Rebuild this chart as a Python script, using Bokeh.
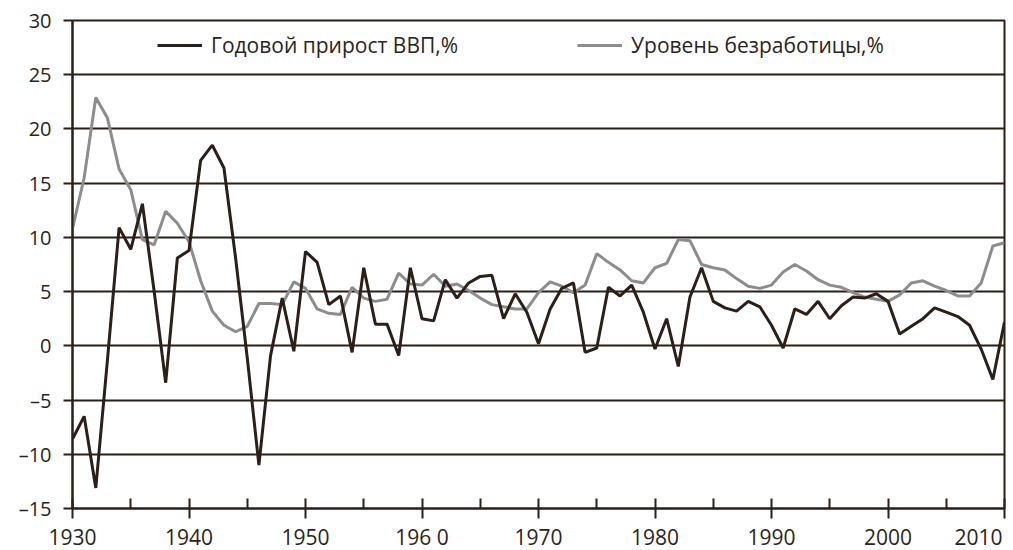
from bokeh.plotting import figure
from bokeh.models import FixedTicker, Range1d, Legend, LegendItem
from bokeh.embed import file_html
from bokeh.resources import INLINE

years = list(range(1930, 2011))

gdp_growth = [
    -8.6, -6.5, -13.1, -1.3, 10.9, 8.9, 13.1, 5.1, -3.4, 8.1,     # 1930-1939
    8.8, 17.1, 18.5, 16.4, 8.1, -1.1, -11.0, -0.9, 4.4, -0.5,      # 1940-1949
    8.7, 7.7, 3.8, 4.6, -0.6, 7.2, 2.0, 2.0, -0.9, 7.2,            # 1950-1959
    2.5, 2.3, 6.1, 4.4, 5.8, 6.4, 6.5, 2.5, 4.8, 3.1,              # 1960-1969
    0.2, 3.4, 5.3, 5.8, -0.6, -0.2, 5.4, 4.6, 5.6, 3.1,            # 1970-1979
    -0.3, 2.5, -1.9, 4.5, 7.2, 4.1, 3.5, 3.2, 4.1, 3.6,            # 1980-1989
    1.9, -0.2, 3.4, 2.9, 4.1, 2.5, 3.7, 4.5, 4.4, 4.8,             # 1990-1999
    4.1, 1.1, 1.8, 2.5, 3.5, 3.1, 2.7, 1.9, -0.3, -3.1,            # 2000-2009
    2.2,                                                           # 2010
]

unemployment = [
    10.8, 15.5, 22.9, 21.0, 16.3, 14.4, 9.8, 9.3, 12.4, 11.3,      # 1930-1939
    9.6, 6.0, 3.2, 1.9, 1.3, 1.8, 3.9, 3.9, 3.8, 5.9,              # 1940-1949
    5.3, 3.4, 3.0, 2.9, 5.4, 4.4, 4.1, 4.3, 6.7, 5.7,              # 1950-1959
    5.6, 6.6, 5.5, 5.7, 5.1, 4.4, 3.8, 3.6, 3.4, 3.4,              # 1960-1969
    4.9, 5.9, 5.5, 4.9, 5.6, 8.5, 7.7, 7.0, 6.0, 5.8,              # 1970-1979
    7.2, 7.6, 9.8, 9.7, 7.5, 7.2, 7.0, 6.2, 5.5, 5.3,              # 1980-1989
    5.6, 6.8, 7.5, 6.9, 6.1, 5.6, 5.4, 4.9, 4.5, 4.3,              # 1990-1999
    4.1, 4.7, 5.8, 6.0, 5.5, 5.1, 4.6, 4.6, 5.8, 9.2,              # 2000-2009
    9.5,                                                           # 2010
]

x_ticks = [1930, 1940, 1950, 1960, 1970, 1980, 1990, 2000, 2010]
x_minor = [1935, 1945, 1955, 1965, 1975, 1985, 1995, 2005]
x_labels = {1960: "196 0", 2010: "2010" + "\u00a0" * 2}
y_ticks = [-15, -10, -5, 0, 5, 10, 15, 20, 25, 30]
y_labels = {-15: "\u201315", -10: "\u201310", -5: "\u20135"}

series_names = ["Годовой прирост ВВП,%", "Уровень безработицы,%"]

DARK = "#2b1f17"
GREY = "#8d8d8d"
TEXT = "#2a2421"
FONT = "Open Sans"

p = figure(
    frame_width=932, frame_height=488,
    min_border_left=72, min_border_top=20, min_border_right=9, min_border_bottom=42,
    x_range=Range1d(1930, 2010), y_range=Range1d(-15, 30),
    output_backend="svg", toolbar_location=None,
    background_fill_color="white", border_fill_color="white",
)

r_unemp = p.line(years, unemployment, line_color=GREY, line_width=3)
r_gdp = p.line(years, gdp_growth, line_color=DARK, line_width=3)

# x axis
xa = p.xaxis[0]
xa.ticker = FixedTicker(ticks=x_ticks, minor_ticks=x_minor)
xa.major_label_overrides = x_labels
xa.axis_line_color = DARK
xa.axis_line_width = 2
xa.major_tick_line_color = DARK
xa.major_tick_line_width = 2
xa.major_tick_in = 10
xa.major_tick_out = 10
xa.minor_tick_line_color = DARK
xa.minor_tick_line_width = 2
xa.minor_tick_in = 10
xa.minor_tick_out = 0
xa.major_label_text_font = FONT
xa.major_label_text_font_size = "21px"
xa.major_label_text_color = TEXT
xa.major_label_standoff = 4

# y axis
ya = p.yaxis[0]
ya.ticker = FixedTicker(ticks=y_ticks)
ya.major_label_overrides = y_labels
ya.axis_line_color = DARK
ya.axis_line_width = 2
ya.major_tick_line_color = DARK
ya.major_tick_line_width = 2
ya.major_tick_in = 0
ya.major_tick_out = 9
ya.minor_tick_line_color = None
ya.major_label_text_font = FONT
ya.major_label_text_font_size = "20px"
ya.major_label_text_color = TEXT
ya.major_label_standoff = 12

p.xgrid.visible = False
p.ygrid.ticker = FixedTicker(ticks=y_ticks)
p.ygrid.grid_line_color = DARK
p.ygrid.grid_line_width = 2

p.outline_line_color = DARK
p.outline_line_width = 2
p.outline_line_alpha = 1.0

legend = Legend(
    items=[LegendItem(label=series_names[0], renderers=[r_gdp]),
           LegendItem(label=series_names[1], renderers=[r_unemp])],
    orientation="horizontal", location=(85, 449),
    background_fill_alpha=0, border_line_alpha=0,
    padding=0, margin=0, spacing=119,
    glyph_width=45, glyph_height=20, label_standoff=9,
    label_height=20,
    label_text_font=FONT, label_text_font_size="21px", label_text_color=TEXT,
)
p.add_layout(legend)

open("out.html", "w").write(file_html(p, INLINE))
